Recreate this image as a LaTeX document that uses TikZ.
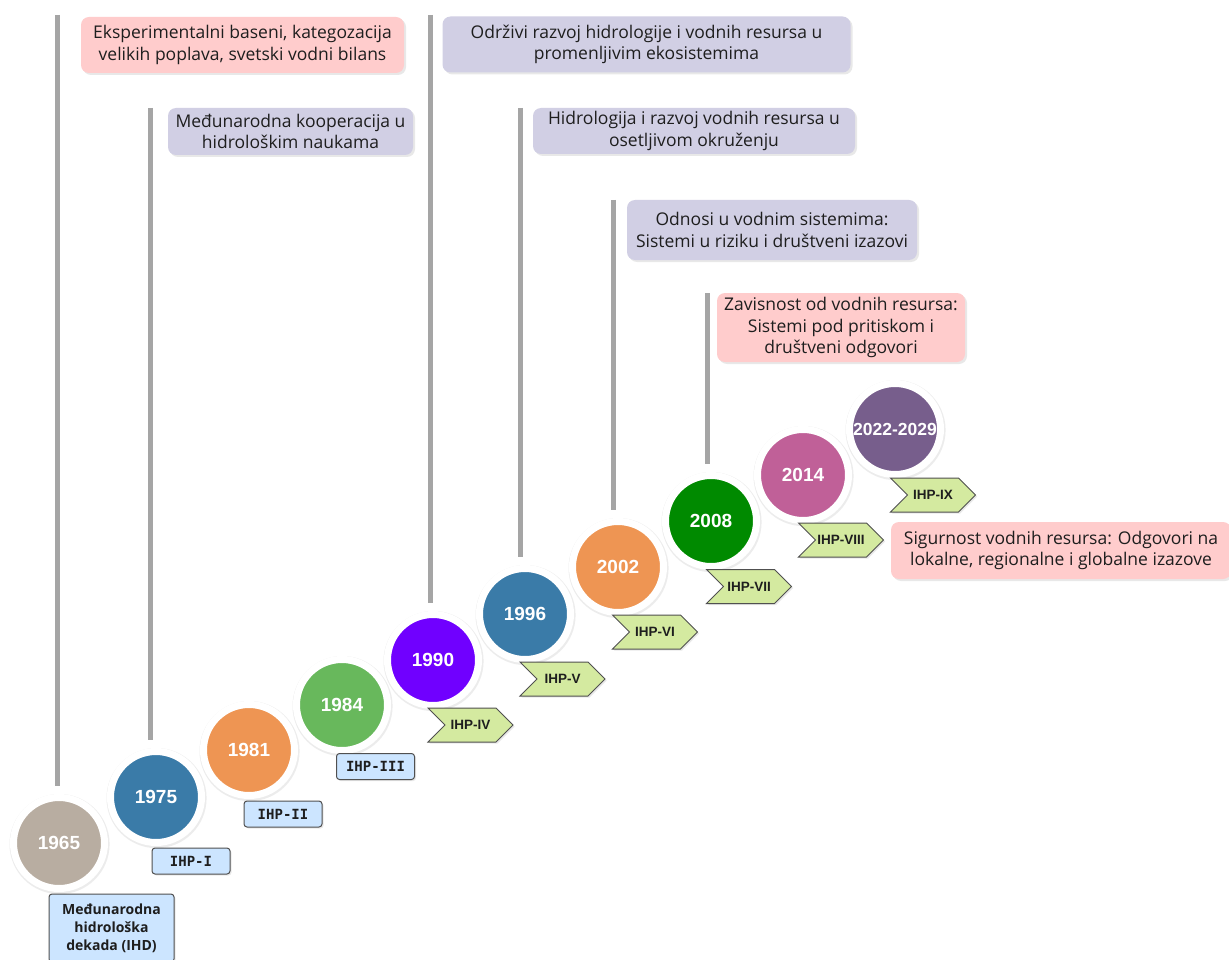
\documentclass[tikz,border=0pt]{standalone}
\usepackage{fontspec}
\setmainfont{Open Sans}
\newfontfamily\arialf{Liberation Sans}
\newfontfamily\monof{DejaVu Sans Mono}
\usetikzlibrary{shapes.symbols,shadows,calc}
\definecolor{c1965}{RGB}{184,173,161}
\definecolor{c1975}{RGB}{58,123,168}
\definecolor{c1981}{RGB}{238,149,83}
\definecolor{c1984}{RGB}{104,184,92}
\definecolor{c1990}{RGB}{112,0,255}
\definecolor{c2008}{RGB}{0,138,0}
\definecolor{c2014}{RGB}{192,96,152}
\definecolor{c2022}{RGB}{119,94,140}
\definecolor{pinkc}{RGB}{255,204,204}
\definecolor{lavc}{RGB}{209,207,228}
\definecolor{bluec}{RGB}{204,229,255}
\definecolor{chevc}{RGB}{212,234,160}
\definecolor{linegray}{RGB}{165,165,165}
\definecolor{textc}{RGB}{30,30,30}
\definecolor{bordc}{RGB}{80,80,80}
\begin{document}
\begin{tikzpicture}[x=1pt,y=-1pt,
  vline/.style={line width=5pt, draw=linegray, shorten >=11.5pt},
  topic/.style={rounded corners=8pt, align=center, inner sep=0pt, outer sep=0pt, text=textc,
     font=\fontsize{17.5}{21.5}\selectfont,
     drop shadow={opacity=0.18, shadow xshift=2pt, shadow yshift=-2pt}},
  pinkbox/.style={topic, fill=pinkc},
  lavbox/.style={topic, fill=lavc},
  yearc/.style={circle, minimum size=91pt, inner sep=0pt, outer sep=0pt, draw=white, line width=7pt,
     text=white, font=\arialf\bfseries\fontsize{19}{20}\selectfont,
     drop shadow={shadow scale=1.1, shadow xshift=0.5pt, shadow yshift=-1pt, opacity=0.15}},
  ihpbox/.style={rounded corners=3pt, fill=bluec, draw=bordc, line width=1pt, text=textc,
     font=\monof\bfseries\fontsize{14}{18}\selectfont, inner sep=0pt, minimum height=26pt, minimum width=78pt,
     align=center, drop shadow={opacity=0.18, shadow xshift=1.5pt, shadow yshift=-1.5pt}},
  chev/.style={signal, signal from=west, signal to=east, fill=chevc, draw=bordc, line width=1pt,
     minimum width=85pt, minimum height=34pt, inner sep=0pt, text=textc,
     font=\arialf\bfseries\fontsize{13.5}{15}\selectfont,
     drop shadow={opacity=0.18, shadow xshift=1.5pt, shadow yshift=-1.5pt}}
]
\useasboundingbox[fill=white] (0,0) rectangle (1229,960);

% year circles
\node[yearc, fill=c1965] (y1965) at (59,843) {1965};
\node[yearc, fill=c1975] (y1975) at (156,797) {1975};
\node[yearc, fill=c1981] (y1981) at (249,750) {1981};
\node[yearc, fill=c1984] (y1984) at (342,705) {1984};
\node[yearc, fill=c1990] (y1990) at (433,660) {1990};
\node[yearc, fill=c1975] (y1996) at (525,614) {1996};
\node[yearc, fill=c1981] (y2002) at (618,567) {2002};
\node[yearc, fill=c2008] (y2008) at (711,521) {2008};
\node[yearc, fill=c2014] (y2014) at (803,475) {2014};
\node[yearc, fill=c2022, font=\arialf\bfseries\fontsize{17.5}{20}\selectfont] (y2022) at (895,429) {2022-2029};

% vertical lines
\coordinate (t1965) at (57,15);
\coordinate (t1975) at (150,108);
\coordinate (t1990) at (430,15);
\coordinate (t1996) at (520,108);
\coordinate (t2002) at (613,200);
\coordinate (t2008) at (707,293);
\draw[vline] (t1965) -- (t1965 |- y1965.north);
\draw[vline] (t1975) -- (t1975 |- y1975.north);
\draw[vline] (t1990) -- (t1990 |- y1990.north);
\draw[vline] (t1996) -- (t1996 |- y1996.north);
\draw[vline] (t2002) -- (t2002 |- y2002.north);
\draw[vline] (t2008) -- (t2008 |- y2008.north);

% topic boxes
\node[pinkbox, minimum width=323pt, minimum height=56pt] (bA) at (242.5,45)
  {Eksperimentalni baseni, kategozacija\\velikih poplava, svetski vodni bilans};
\node[lavbox, minimum width=245pt, minimum height=47pt] (bB) at (290.5,131.5)
  {Međunarodna kooperacija u\\hidrološkim naukama};
\node[lavbox, minimum width=408pt, minimum height=56pt] (bC) at (646.5,44.5)
  {Održivi razvoj hidrologije i vodnih resursa u\\promenljivim ekosistemima};
\node[lavbox, minimum width=322pt, minimum height=46pt] (bD) at (694,131)
  {Hidrologija i razvoj vodnih resursa u\\osetljivom okruženju};
\node[lavbox, minimum width=290pt, minimum height=60pt] (bE) at (772,230)
  {Odnosi u vodnim sistemima:\\Sistemi u riziku i društveni izazovi};
\node[pinkbox, minimum width=248pt, minimum height=69pt] (bF) at (841,327.5)
  {Zavisnost od vodnih resursa:\\Sistemi pod pritiskom i\\društveni odgovori};
\node[pinkbox, minimum width=340pt, minimum height=57pt] (bG) at (1061,550.5)
  {Sigurnost vodnih resursa: Odgovori na\\lokalne, regionalne i globalne izazove};

% IHP labels
\node[ihpbox, minimum width=125pt, minimum height=68pt, font=\bfseries\fontsize{14}{18}\selectfont] (ihd) at (111.5,928)
  {Međunarodna\\hidrološka\\dekada (IHD)};
\node[ihpbox] (ihp1) at (191,861) {IHP-I};
\node[ihpbox] (ihp2) at (283,814) {IHP-II};
\node[ihpbox] (ihp3) at (375.5,766.5) {IHP-III};
\node[chev] (ihp4) at (470.5,725) {IHP-IV};
\node[chev] (ihp5) at (562.5,679) {IHP-V};
\node[chev] (ihp6) at (655,632) {IHP-VI};
\node[chev] (ihp7) at (749,586.5) {IHP-VII};
\node[chev] (ihp8) at (841,540) {IHP-VIII};
\node[chev] (ihp9) at (933,495) {IHP-IX};
\end{tikzpicture}
\end{document}
